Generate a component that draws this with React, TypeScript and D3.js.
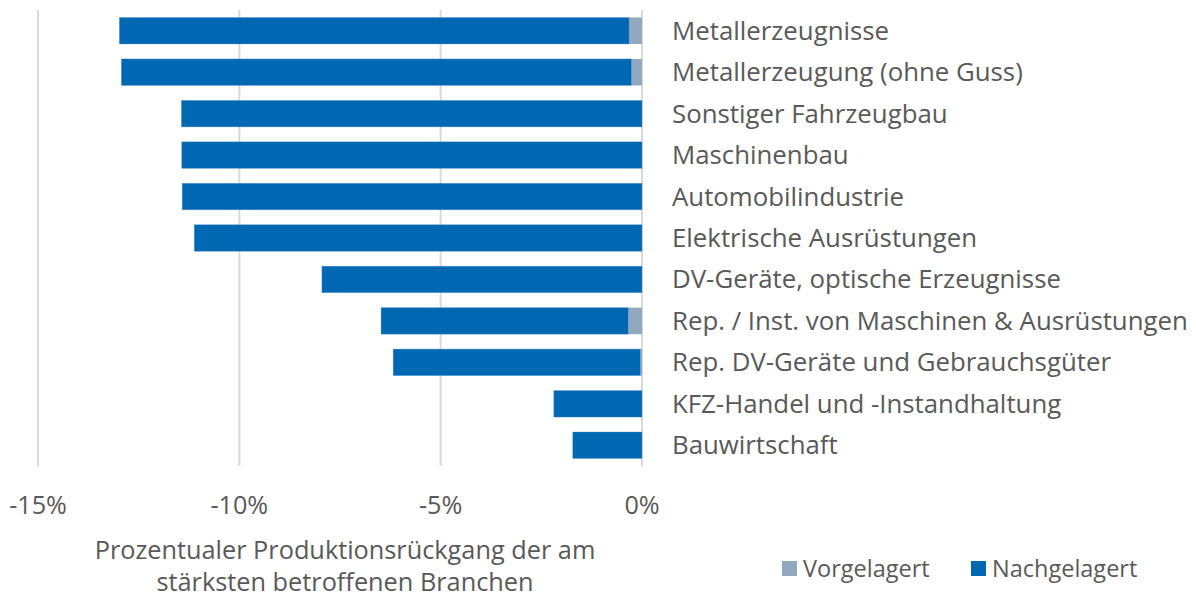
import React from "react";
import * as d3 from "d3";

const categories = [
  "Metallerzeugnisse",
  "Metallerzeugung (ohne Guss)",
  "Sonstiger Fahrzeugbau",
  "Maschinenbau",
  "Automobilindustrie",
  "Elektrische Ausrüstungen",
  "DV-Geräte, optische Erzeugnisse",
  "Rep. / Inst. von Maschinen & Ausrüstungen",
  "Rep. DV-Geräte und Gebrauchsgüter",
  "KFZ-Handel und -Instandhaltung",
  "Bauwirtschaft",
];
const vorgelagert = [-0.32, -0.26, 0, 0, 0, 0, 0, -0.34, -0.04, 0, 0];
const nachgelagert = [-12.66, -12.67, -11.44, -11.43, -11.42, -11.12, -7.95, -6.14, -6.14, -2.19, -1.72];
const ticks = [-15, -10, -5, 0];
const seriesNames = ["Vorgelagert", "Nachgelagert"];
const colors = ["#92a8bf", "#0068b2"];

const W = 1196;
const H = 598;
const FONT = "'Open Sans', sans-serif";
const TXT = "#595959";

export default function App() {
  const x = d3.scaleLinear().domain([-15, 0]).range([38, 642]);
  const y = d3
    .scaleBand<string>()
    .domain(categories)
    .range([10, 466])
    .paddingInner(0.36)
    .paddingOuter(0.18);

  const bars: React.ReactNode[] = [];
  categories.forEach((c, i) => {
    const v = vorgelagert[i];
    const n = nachgelagert[i];
    const yy = y(c)!;
    const h = y.bandwidth();
    if (v !== 0) {
      bars.push(
        <rect key={"v" + i} x={x(v)} y={yy} width={x(0) - x(v)} height={h} fill={colors[0]} />
      );
    }
    bars.push(
      <rect
        key={"n" + i}
        x={x(v + n)}
        y={yy}
        width={x(v) - x(v + n)}
        height={h}
        fill={colors[1]}
        stroke="#5b9bd5"
        strokeWidth={0.6}
        strokeOpacity={0.6}
      />
    );
  });

  return (
    <svg
      width={W}
      height={H}
      style={{ position: "absolute", left: 0, top: 0, background: "#fff" }}
      fontFamily={FONT}
    >
      {ticks.map((t) => (
        <line key={t} x1={x(t)} x2={x(t)} y1={10} y2={466} stroke="#d9d9d9" strokeWidth={2} />
      ))}
      {bars}
      {categories.map((c) => (
        <text
          key={c}
          x={672}
          y={y(c)! + y.bandwidth() / 2}
          dy="0.35em"
          fontSize={25.8}
          fill={TXT}
        >
          {c}
        </text>
      ))}
      {ticks.map((t) => (
        <text key={"t" + t} x={x(t)} y={505} dy="0.35em" textAnchor="middle" fontSize={25.2} fill={TXT}>
          {t + "%"}
        </text>
      ))}
      <text x={345} y={550} dy="0.35em" textAnchor="middle" fontSize={25.3} fill={TXT}>
        Prozentualer Produktionsrückgang der am
      </text>
      <text x={345} y={582} dy="0.35em" textAnchor="middle" fontSize={25.3} fill={TXT}>
        stärksten betroffenen Branchen
      </text>
      {seriesNames.map((s, i) => {
        const lx = [782, 971][i];
        return (
          <g key={s}>
            <rect x={lx} y={561} width={15} height={15} fill={colors[i]} />
            <text x={lx + 21} y={568.5} dy="0.35em" fontSize={23.5} fill={TXT}>
              {s}
            </text>
          </g>
        );
      })}
    </svg>
  );
}
